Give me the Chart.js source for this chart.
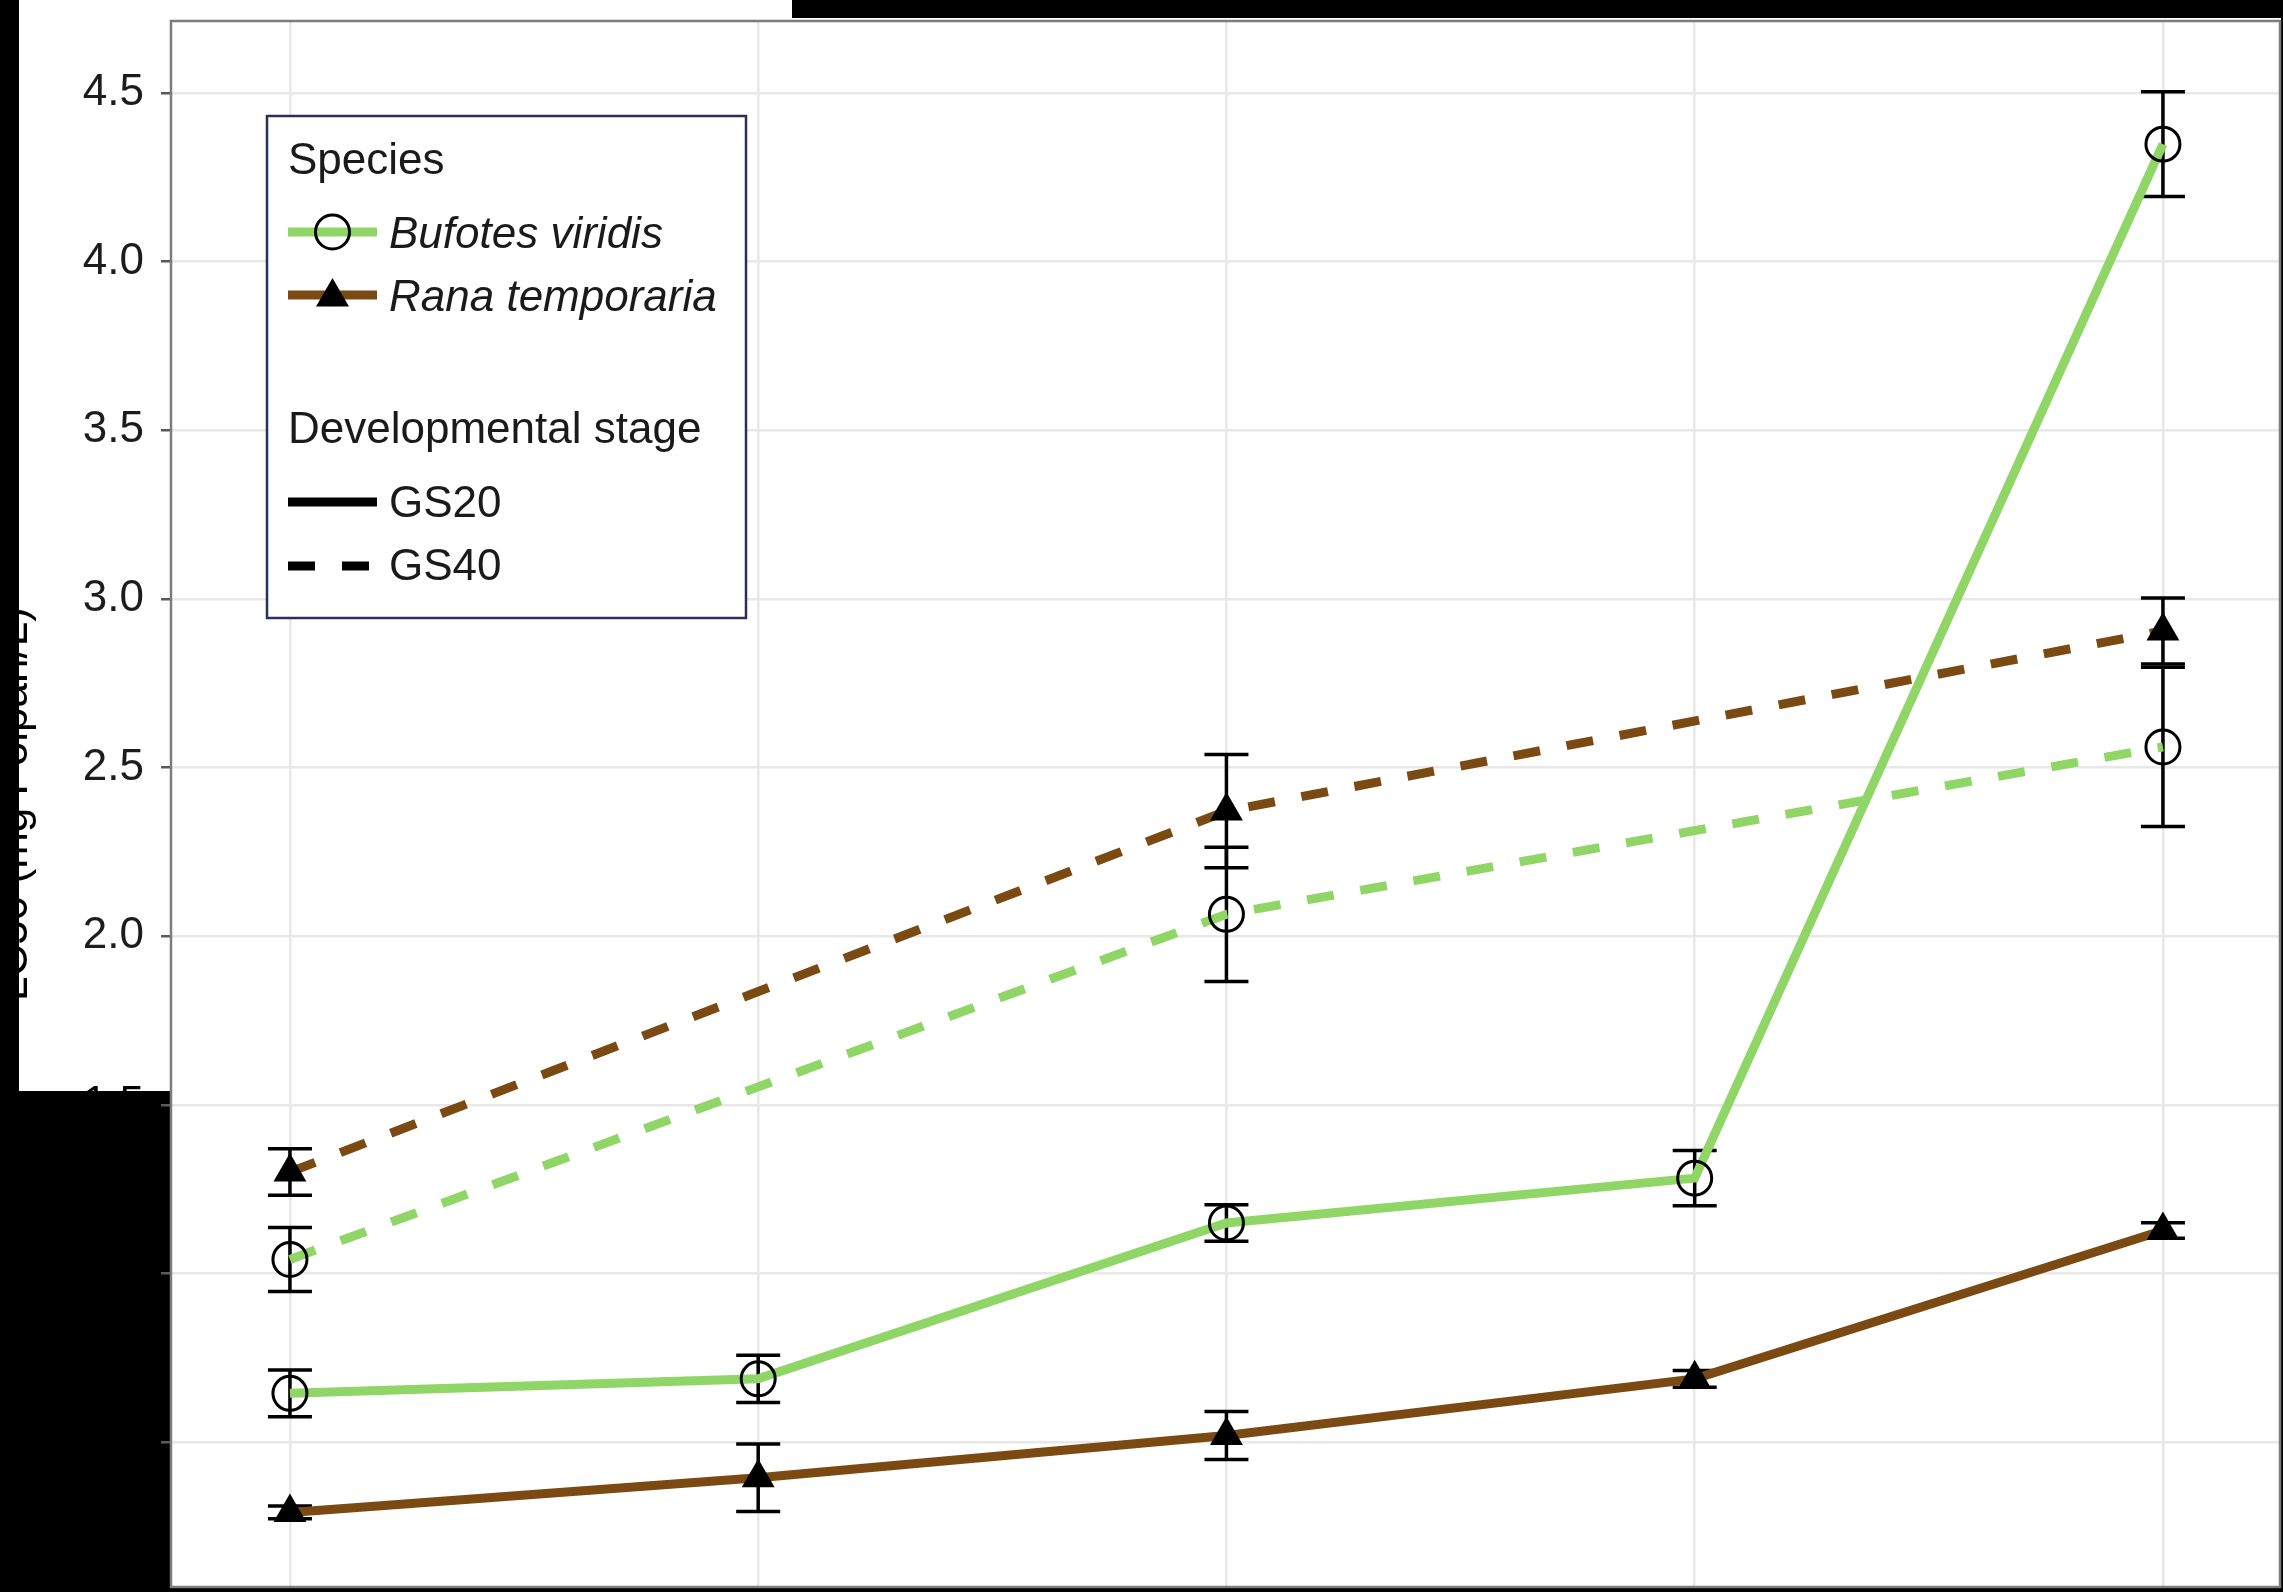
<!DOCTYPE html>
<html>
<head>
<meta charset="utf-8">
<script src="https://cdn.jsdelivr.net/npm/chart.js@4.4.1/dist/chart.umd.min.js"></script>
<style>
  html, body { margin: 0; padding: 0; background: #000; overflow: hidden; }
  canvas { display: block; }
</style>
</head>
<body>
<canvas id="c" width="2283" height="1592" style="width:2283px;height:1592px"></canvas>
<script>
// Positions of the five exposure levels along x
const levels = [0, 1, 2, 3, 4];
// Y tick values
const yTicks = [0.5, 1.0, 1.5, 2.0, 2.5, 3.0, 3.5, 4.0, 4.5];

// Mean LC50 per level and the error half-widths (null = not tested)
const bufoGS20    = [0.645, 0.688, 1.150, 1.283, 4.348];
const bufoGS20Err = [0.069, 0.070, 0.054, 0.082, 0.155];
const bufoGS40    = [1.042, null, 2.065, null, 2.561];
const bufoGS40Err = [0.095, null, 0.199, null, 0.236];
const ranaGS20    = [0.292, 0.395, 0.520, 0.688, 1.128];
const ranaGS20Err = [0.019, 0.100, 0.071, 0.025, 0.023];
const ranaGS40    = [1.301, null, 2.371, null, 2.905];
const ranaGS40Err = [0.069, null, 0.168, null, 0.098];

const speciesNames = ['Bufotes viridis', 'Rana temporaria'];
const stageNames = ['GS20', 'GS40'];

const GREEN = '#8fd666';
const BROWN = '#7a4a12';
const FONT = '"Liberation Sans", Arial, Helvetica, sans-serif';
const LINE_W = 9;
const DASH = [27, 27];

const pts = arr => levels.map((lv, i) => ({ x: lv, y: arr[i] }));

// White page with the black surround
const frame = {
  id: 'frame',
  beforeDraw(chart) {
    const { ctx, width, height } = chart;
    ctx.save();
    ctx.fillStyle = '#fff';
    ctx.fillRect(0, 0, width, height);
    ctx.fillStyle = '#000';
    ctx.fillRect(0, 0, 19, height);
    ctx.fillRect(0, 1091, 170, height - 1091);
    ctx.fillRect(792, 0, width - 792, 18);
    ctx.fillRect(width - 2, 0, 2, height);
    ctx.fillRect(0, height - 4, width, 4);
    ctx.restore();
  }
};

// Panel outline
const plotBorder = {
  id: 'plotBorder',
  beforeDatasetsDraw(chart) {
    const { ctx, chartArea: a } = chart;
    ctx.save();
    ctx.strokeStyle = '#7d7d7d';
    ctx.lineWidth = 2.5;
    ctx.strokeRect(a.left, a.top, a.right - a.left, a.bottom - a.top);
    ctx.restore();
  }
};

// Vertical error bars with caps
const errorBars = {
  id: 'errorBars',
  beforeDatasetsDraw(chart) {
    const { ctx, scales: { x, y } } = chart;
    ctx.save();
    ctx.strokeStyle = '#000';
    ctx.lineWidth = 3.5;
    ctx.lineCap = 'butt';
    chart.data.datasets.forEach(ds => {
      ds.data.forEach((p, i) => {
        const e = ds.errors[i];
        if (p.y == null || e == null) return;
        const px = x.getPixelForValue(p.x);
        const top = y.getPixelForValue(p.y + e);
        const bot = y.getPixelForValue(p.y - e);
        ctx.beginPath();
        ctx.moveTo(px, top); ctx.lineTo(px, bot);
        ctx.moveTo(px - 22, top); ctx.lineTo(px + 22, top);
        ctx.moveTo(px - 22, bot); ctx.lineTo(px + 22, bot);
        ctx.stroke();
      });
    });
    ctx.restore();
  }
};

// Two-part key: species (colour + marker) and stage (line type)
const legendBox = {
  id: 'legendBox',
  afterDraw(chart) {
    const ctx = chart.ctx;
    ctx.save();
    ctx.fillStyle = '#fff';
    ctx.fillRect(267, 116, 479, 502);
    ctx.strokeStyle = '#2e2e5c';
    ctx.lineWidth = 2.5;
    ctx.strokeRect(267, 116, 479, 502);

    ctx.fillStyle = '#1a1a1a';
    ctx.textAlign = 'left';
    ctx.textBaseline = 'alphabetic';
    ctx.font = '44px ' + FONT;
    ctx.fillText('Species', 288, 174);
    ctx.fillText('Developmental stage', 288, 443);
    ctx.font = 'italic 44px ' + FONT;
    ctx.fillText(speciesNames[0], 389, 248);
    ctx.fillText(speciesNames[1], 389, 311);
    ctx.font = '44px ' + FONT;
    ctx.fillText(stageNames[0], 389, 517);
    ctx.fillText(stageNames[1], 389, 580);

    ctx.lineCap = 'butt';
    ctx.lineWidth = LINE_W;
    // species keys
    ctx.strokeStyle = GREEN;
    ctx.beginPath(); ctx.moveTo(288, 232); ctx.lineTo(377, 232); ctx.stroke();
    ctx.strokeStyle = '#000';
    ctx.lineWidth = 3;
    ctx.beginPath(); ctx.arc(332.5, 232, 17, 0, Math.PI * 2); ctx.stroke();

    ctx.lineWidth = LINE_W;
    ctx.strokeStyle = BROWN;
    ctx.beginPath(); ctx.moveTo(288, 295); ctx.lineTo(377, 295); ctx.stroke();
    ctx.fillStyle = '#000';
    const r = 19, cx = 332.5, cy = 297;
    ctx.beginPath();
    ctx.moveTo(cx, cy - r);
    ctx.lineTo(cx + r * Math.sin(2 * Math.PI / 3), cy + r / 2);
    ctx.lineTo(cx - r * Math.sin(2 * Math.PI / 3), cy + r / 2);
    ctx.closePath(); ctx.fill();

    // stage keys
    ctx.strokeStyle = '#000';
    ctx.lineWidth = LINE_W;
    ctx.beginPath(); ctx.moveTo(288, 502); ctx.lineTo(377, 502); ctx.stroke();
    ctx.setLineDash(DASH);
    ctx.beginPath(); ctx.moveTo(288, 566); ctx.lineTo(377, 566); ctx.stroke();
    ctx.setLineDash([]);
    ctx.restore();
  }
};

const base = {
  borderWidth: LINE_W,
  borderCapStyle: 'butt',
  tension: 0,
  pointBorderColor: '#000',
  spanGaps: true
};
const circlePts = { pointStyle: 'circle', pointRadius: 17, pointBackgroundColor: 'rgba(0,0,0,0)', pointBorderWidth: 3 };
const trianglePts = { pointStyle: 'triangle', pointRadius: 19, pointBackgroundColor: '#000', pointBorderWidth: 0 };

new Chart(document.getElementById('c'), {
  type: 'line',
  data: {
    datasets: [
      Object.assign({ label: 'Bufotes viridis GS20', data: pts(bufoGS20), errors: bufoGS20Err, borderColor: GREEN }, base, circlePts),
      Object.assign({ label: 'Rana temporaria GS20', data: pts(ranaGS20), errors: ranaGS20Err, borderColor: BROWN }, base, trianglePts),
      Object.assign({ label: 'Bufotes viridis GS40', data: pts(bufoGS40), errors: bufoGS40Err, borderColor: GREEN, borderDash: DASH }, base, circlePts),
      Object.assign({ label: 'Rana temporaria GS40', data: pts(ranaGS40), errors: ranaGS40Err, borderColor: BROWN, borderDash: DASH }, base, trianglePts)
    ]
  },
  options: {
    responsive: false,
    animation: false,
    devicePixelRatio: 1,
    layout: { autoPadding: false, padding: { top: 21, right: 3, bottom: 5, left: 0 } },
    plugins: { legend: { display: false }, tooltip: { enabled: false } },
    scales: {
      x: {
        type: 'linear',
        min: -0.254,
        max: 4.25,
        afterBuildTicks: s => { s.ticks = levels.map(v => ({ value: v })); },
        afterFit: s => { s.height = 0; s.paddingLeft = 0; s.paddingRight = 0; },
        ticks: { display: false },
        grid: { color: '#e8e8e8', lineWidth: 2.5, drawTicks: false },
        border: { display: false }
      },
      y: {
        min: 0.071,
        max: 4.713,
        afterBuildTicks: s => { s.ticks = yTicks.map(v => ({ value: v })); },
        afterFit: s => { s.width = 171; s.paddingTop = 0; s.paddingBottom = 0; },
        ticks: {
          font: { family: FONT, size: 44 },
          color: c => (c.tick && c.tick.value < 1.6 ? '#000' : '#1c1c1c'),
          padding: 17,
          callback: v => Number(v).toFixed(1)
        },
        grid: { color: '#e8e8e8', lineWidth: 2.5, tickLength: 10, tickColor: '#5a5a5a', tickWidth: 2.5 },
        border: { display: false },
        title: {
          display: true,
          text: 'LC50 (mg Polpan/L)',
          color: '#000',
          font: { family: FONT, size: 44, lineHeight: 0.66 },
          padding: 0
        }
      }
    }
  },
  plugins: [frame, plotBorder, errorBars, legendBox]
});
</script>
</body>
</html>
